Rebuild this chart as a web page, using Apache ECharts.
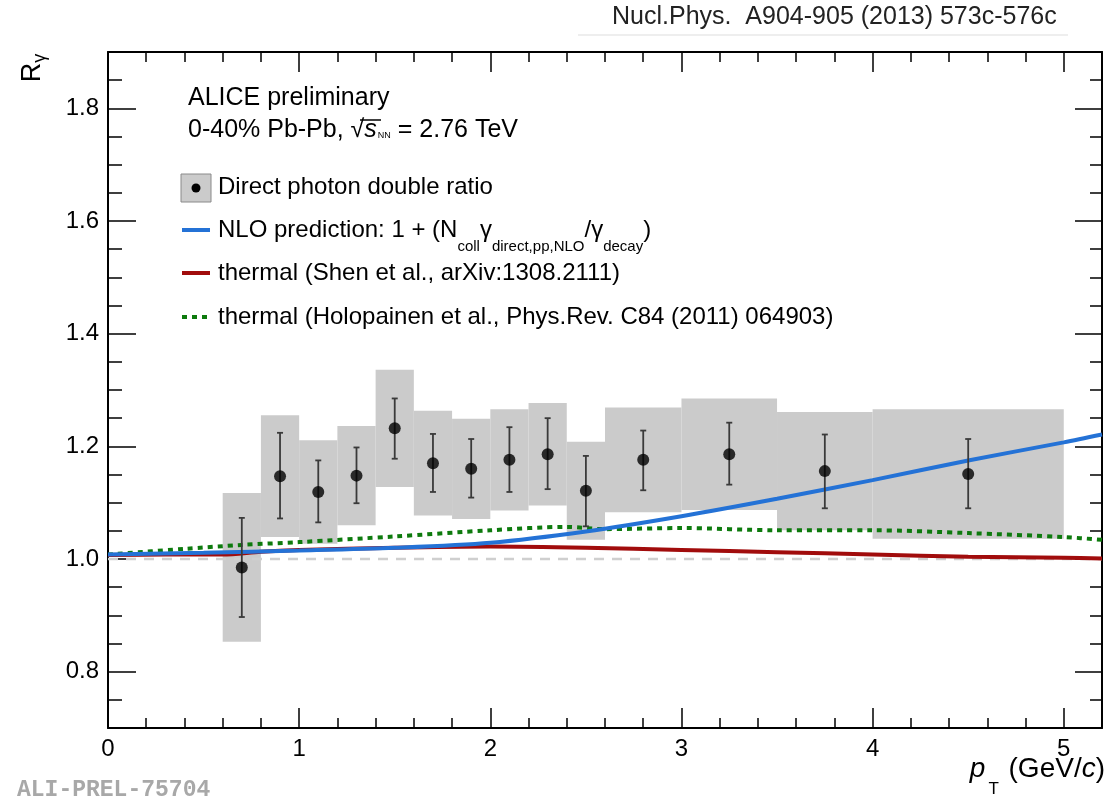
<!DOCTYPE html>
<html><head><meta charset="utf-8">
<script src="https://cdn.jsdelivr.net/npm/echarts@6/dist/echarts.min.js"></script>
<style>html,body{margin:0;padding:0;background:#fff}#c{width:1107px;height:798px}</style>
</head><body><div id="c"></div>
<script>
// ---- data ----
const binLo = [0.6, 0.8, 1.0, 1.2, 1.4, 1.6, 1.8, 2.0, 2.2, 2.4, 2.6, 3.0, 3.5, 4.0];
const binHi = [0.8, 1.0, 1.2, 1.4, 1.6, 1.8, 2.0, 2.2, 2.4, 2.6, 3.0, 3.5, 4.0, 5.0];
const ptVals = [0.7, 0.9, 1.1, 1.3, 1.5, 1.7, 1.9, 2.1, 2.3, 2.5, 2.8, 3.25, 3.75, 4.5];
const rVals = [0.985, 1.147, 1.119, 1.148, 1.232, 1.170, 1.160, 1.176, 1.186, 1.121, 1.176, 1.186, 1.156, 1.151];
const statLo = [0.897, 1.072, 1.065, 1.099, 1.178, 1.119, 1.109, 1.119, 1.124, 1.058, 1.122, 1.132, 1.090, 1.090];
const statHi = [1.073, 1.224, 1.175, 1.198, 1.285, 1.222, 1.213, 1.234, 1.250, 1.183, 1.228, 1.242, 1.221, 1.213];
const sysLo = [0.853, 1.039, 1.027, 1.060, 1.128, 1.077, 1.071, 1.086, 1.095, 1.034, 1.083, 1.087, 1.051, 1.036];
const sysHi = [1.117, 1.255, 1.211, 1.236, 1.336, 1.263, 1.249, 1.266, 1.277, 1.208, 1.269, 1.285, 1.261, 1.266];

const nloX = [0, 0.5, 1.0, 1.5, 2.0, 2.5, 3.0, 3.5, 4.0, 4.5, 5.0, 5.2];
const nloY = [1.008, 1.011, 1.015, 1.020, 1.029, 1.049, 1.076, 1.107, 1.140, 1.175, 1.207, 1.221];
const shenX = [0, 0.3, 0.6, 0.8, 1.0, 1.5, 2.0, 2.5, 3.0, 3.5, 4.0, 4.5, 5.0, 5.2];
const shenY = [1.007, 1.008, 1.008, 1.013, 1.016, 1.020, 1.022, 1.020, 1.016, 1.012, 1.008, 1.004, 1.002, 1.001];
const holoX = [0, 0.4, 0.7, 1.0, 1.5, 2.0, 2.4, 2.6, 3.0, 3.5, 4.0, 4.5, 5.0, 5.2];
const holoY = [1.008, 1.018, 1.025, 1.030, 1.040, 1.051, 1.057, 1.053, 1.055, 1.051, 1.051, 1.046, 1.039, 1.034];
const refX = [0, 5.2];
const refY = [1.0, 1.0];

const xMajor = [0, 1, 2, 3, 4, 5];
const xMinor = [0.2, 0.4, 0.6, 0.8, 1.2, 1.4, 1.6, 1.8, 2.2, 2.4, 2.6, 2.8, 3.2, 3.4, 3.6, 3.8, 4.2, 4.4, 4.6, 4.8];
const yMajor = [0.8, 1.0, 1.2, 1.4, 1.6, 1.8];
const yMinor = [0.75, 0.85, 0.9, 0.95, 1.05, 1.1, 1.15, 1.25, 1.3, 1.35, 1.45, 1.5, 1.55, 1.65, 1.7, 1.75, 1.85];
const yLabels = ['0.8', '1.0', '1.2', '1.4', '1.6', '1.8'];

// ---- chart ----
const FONT = 'Liberation Sans, Arial, sans-serif';
const chart = echarts.init(document.getElementById('c'), null, {renderer: 'canvas'});
const zip = (a, b) => a.map((v, i) => [v, b[i]]);

function xAx(pos, vals, len, showLine, showLabel) {
  return {
    type: 'value', position: pos, min: 0, max: 5.2,
    axisLine: {show: showLine, onZero: false, lineStyle: {color: '#000', width: 2}},
    axisTick: {show: true, inside: true, length: len, customValues: vals, lineStyle: {color: '#000', width: 1.5}},
    axisLabel: showLabel ? {show: true, customValues: vals, fontSize: 24, color: '#000', fontFamily: FONT, margin: 9,
      formatter: v => String(Math.round(v))} : {show: false},
    splitLine: {show: false}
  };
}
function yAx(pos, vals, len, showLine, showLabel) {
  return {
    type: 'value', position: pos, min: 0.7, max: 1.9,
    axisLine: {show: showLine, onZero: false, lineStyle: {color: '#000', width: 2}},
    axisTick: {show: true, inside: true, length: len, customValues: vals, lineStyle: {color: '#000', width: 1.5}},
    axisLabel: showLabel ? {show: true, customValues: vals, fontSize: 24, color: '#000', fontFamily: FONT, margin: 9,
      formatter: v => yLabels[yMajor.findIndex(m => Math.abs(m - v) < 1e-6)] || ''} : {show: false},
    splitLine: {show: false}
  };
}

const option = {
  animation: false,
  backgroundColor: '#fff',
  grid: {left: 108, right: 5, top: 52, bottom: 70, containLabel: false},
  xAxis: [
    xAx('bottom', xMajor, 20, true, true),
    xAx('bottom', xMinor, 10, false, false),
    xAx('top', xMajor, 20, true, false),
    xAx('top', xMinor, 10, false, false)
  ],
  yAxis: [
    yAx('left', yMajor, 28, true, true),
    yAx('left', yMinor, 14, false, false),
    yAx('right', yMajor, 27, true, false),
    yAx('right', yMinor, 12, false, false)
  ],
  series: [
    {
      name: 'syst', type: 'custom', xAxisIndex: 0, yAxisIndex: 0, z: 1,
      data: binLo.map((b, i) => [b, binHi[i], sysLo[i], sysHi[i]]),
      renderItem: (params, api) => {
        const p0 = api.coord([api.value(0), api.value(3)]);
        const p1 = api.coord([api.value(1), api.value(2)]);
        return {type: 'rect', shape: {x: p0[0], y: p0[1], width: p1[0] - p0[0], height: p1[1] - p0[1]},
          style: {fill: '#cbcbcb'}};
      }
    },
    {
      name: 'ref', type: 'line', xAxisIndex: 0, yAxisIndex: 0, z: 2, showSymbol: false, silent: true,
      data: zip(refX, refY), lineStyle: {color: '#cfcfcf', width: 2.5, type: [10, 8]}
    },
    {
      name: 'thermal (Holopainen et al., Phys.Rev. C84 (2011) 064903)', type: 'line', z: 3, showSymbol: false, smooth: 0.3,
      data: zip(holoX, holoY), lineStyle: {color: '#0d7a0d', width: 4, type: [5, 5]}
    },
    {
      name: 'thermal (Shen et al., arXiv:1308.2111)', type: 'line', z: 3, showSymbol: false, smooth: 0.3,
      data: zip(shenX, shenY), lineStyle: {color: '#a10c0c', width: 4}
    },
    {
      name: 'NLO prediction', type: 'line', z: 3, showSymbol: false, smooth: 0.3,
      data: zip(nloX, nloY), lineStyle: {color: '#2472d6', width: 4}
    },
    {
      name: 'stat', type: 'custom', z: 4,
      data: ptVals.map((x, i) => [x, statLo[i], statHi[i]]),
      renderItem: (params, api) => {
        const t = api.coord([api.value(0), api.value(2)]);
        const b = api.coord([api.value(0), api.value(1)]);
        const st = {stroke: '#3a3a3a', lineWidth: 1.8};
        return {type: 'group', children: [
          {type: 'line', shape: {x1: t[0], y1: t[1], x2: b[0], y2: b[1]}, style: st},
          {type: 'line', shape: {x1: t[0] - 3, y1: t[1], x2: t[0] + 3, y2: t[1]}, style: st},
          {type: 'line', shape: {x1: b[0] - 3, y1: b[1], x2: b[0] + 3, y2: b[1]}, style: st}
        ]};
      }
    },
    {
      name: 'Direct photon double ratio', type: 'scatter', z: 5, symbol: 'circle', symbolSize: 12,
      itemStyle: {color: '#000'}, data: zip(ptVals, rVals)
    }
  ],
  graphic: [
    // citation
    {type: 'text', x: 612, y: 17, style: {text: 'Nucl.Phys.  A904-905 (2013) 573c-576c', fontSize: 25, fontFamily: FONT, fill: '#222', align: 'left', verticalAlign: 'middle'}},
    {type: 'line', shape: {x1: 578, y1: 35, x2: 1068, y2: 35}, style: {stroke: '#e8e8e8', lineWidth: 1.5}},
    // header
    {type: 'text', x: 188, y: 98, style: {text: 'ALICE preliminary', fontSize: 25, fontFamily: FONT, fill: '#000', align: 'left', verticalAlign: 'middle'}},
    {type: 'text', x: 188, y: 130, style: {
      text: '{m|0-40% Pb-Pb, √}{i|s}{n|NN}{m| = 2.76 TeV}', align: 'left', verticalAlign: 'middle',
      rich: {
        m: {fontSize: 25, fontFamily: FONT, fill: '#000'},
        i: {fontSize: 25, fontFamily: FONT, fontStyle: 'italic', fill: '#000'},
        n: {fontSize: 9, fontFamily: FONT, fill: '#000', padding: [12, 0, 0, 1]}
      }}},
    {type: 'line', shape: {x1: 360, y1: 120, x2: 381, y2: 120}, style: {stroke: '#000', lineWidth: 1.5}},
    // legend
    {type: 'rect', shape: {x: 181, y: 174, width: 30, height: 28}, style: {fill: '#cbcbcb', stroke: '#8a8a8a', lineWidth: 1}},
    {type: 'circle', shape: {cx: 196, cy: 188, r: 4.5}, style: {fill: '#000'}},
    {type: 'text', x: 218, y: 187, style: {text: 'Direct photon double ratio', fontSize: 24, fontFamily: FONT, fill: '#000', align: 'left', verticalAlign: 'middle'}},
    {type: 'line', shape: {x1: 182, y1: 230, x2: 210, y2: 230}, style: {stroke: '#2472d6', lineWidth: 4}},
    {type: 'text', x: 218, y: 230, style: {
      text: '{m|NLO prediction: 1 + (N}{s|coll}{m|γ}{s|direct,pp,NLO}{m|/γ}{s|decay}{m|)}', align: 'left', verticalAlign: 'middle',
      rich: {
        m: {fontSize: 24, fontFamily: FONT, fill: '#000'},
        s: {fontSize: 15, fontFamily: FONT, fill: '#000', padding: [33, 0, 0, 0]}
      }}},
    {type: 'line', shape: {x1: 182, y1: 273, x2: 210, y2: 273}, style: {stroke: '#a10c0c', lineWidth: 4}},
    {type: 'text', x: 218, y: 273, style: {text: 'thermal (Shen et al., arXiv:1308.2111)', fontSize: 24, fontFamily: FONT, fill: '#000', align: 'left', verticalAlign: 'middle'}},
    {type: 'line', shape: {x1: 182, y1: 317, x2: 212, y2: 317}, style: {stroke: '#0d7a0d', lineWidth: 4, lineDash: [5, 5]}},
    {type: 'text', x: 218, y: 317, style: {text: 'thermal (Holopainen et al., Phys.Rev. C84 (2011) 064903)', fontSize: 24, fontFamily: FONT, fill: '#000', align: 'left', verticalAlign: 'middle'}},
    // axis titles
    {type: 'text', x: 33, y: 68, rotation: Math.PI / 2, style: {
      text: '{m|R}{s|γ}', align: 'center', verticalAlign: 'middle',
      rich: {
        m: {fontSize: 27, fontFamily: FONT, fill: '#000'},
        s: {fontSize: 18, fontFamily: FONT, fill: '#000', padding: [14, 0, 0, 0]}
      }}},
    {type: 'text', x: 1105, y: 769, style: {
      text: '{i|p}{t|T}{m| (GeV/}{i|c}{m|)}', align: 'right', verticalAlign: 'middle',
      rich: {
        m: {fontSize: 28, fontFamily: FONT, fill: '#000'},
        i: {fontSize: 28, fontFamily: FONT, fontStyle: 'italic', fill: '#000'},
        t: {fontSize: 17, fontFamily: FONT, fill: '#000', padding: [40, 2, 0, 3]}
      }}},
    // watermark id
    {type: 'text', x: 17, y: 790, style: {text: 'ALI-PREL-75704', fontSize: 23, fontFamily: 'Liberation Mono, Courier New, monospace', fontWeight: 'bold', fill: '#a8a8a8', align: 'left', verticalAlign: 'middle'}}
  ]
};
chart.setOption(option);
</script>
</body></html>
